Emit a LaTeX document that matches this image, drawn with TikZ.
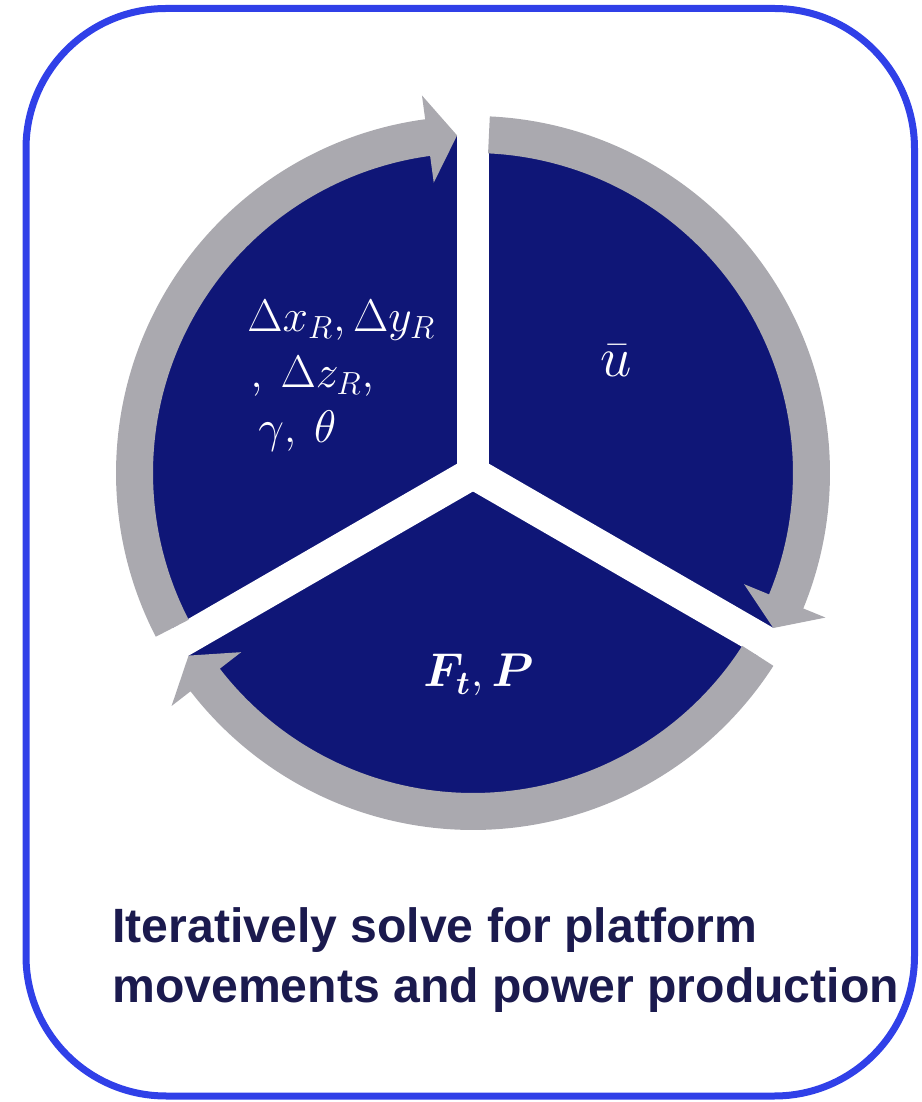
\RequirePackage{fix-cm}
\documentclass[tikz,border=0pt]{standalone}
\usepackage{bm}
\usepackage{fontspec}
\newfontfamily\titulofont{Liberation Sans}

\begin{document}
\begin{tikzpicture}

    % Definición de colores para igualar la imagen
    \definecolor{marco}{HTML}{3040E8}
    \definecolor{sector}{HTML}{0F1677}
    \definecolor{anillo}{HTML}{AAA9AF}
    \definecolor{textoazul}{HTML}{1B1A4E}

    \useasboundingbox (0,0) rectangle (18.44,22.04);

    % 1. Marco con esquinas redondeadas
    \draw[marco, line width=0.14cm, rounded corners=2.8cm] (0.52,0.12) rectangle (18.29,21.87);

    % 2. Círculo dividido en tres sectores
    \begin{scope}[shift={(9.46,12.58)}]
        \fill[sector] (0,0) circle (6.76);
        % Separaciones blancas entre sectores
        \foreach \g in {90,-30,210} {
            \draw[white, line width=0.64cm] (0,0) -- (\g:7.3);
        }

        % 3. Flechas grises del ciclo (sentido horario)
        \foreach \g in {90,-30,-150} {
            \fill[anillo] ({\g-2.7}:7.14) arc[start angle=\g-2.7, end angle=\g-112.3, radius=7.14]
                -- ({\g-112.3}:7.62) -- ({\g-117.3}:6.76) -- ({\g-112.3}:5.86)
                -- ({\g-112.3}:6.4) arc[start angle=\g-112.3, end angle=\g-2.7, radius=6.4] -- cycle;
        }
    \end{scope}

    % 4. Etiquetas de los sectores
    % Sector izquierdo
    \node[anchor=base west, inner sep=0, text=white] (despl1) at (4.94,15.40) {\fontsize{26}{31}\selectfont $\Delta x_R,\Delta y_R$};
    \node[anchor=base west, inner sep=0, text=white] (despl2) at (5.00,14.28) {\fontsize{26}{31}\selectfont $,\:\Delta z_R,$};
    \node[anchor=base west, inner sep=0, text=white] (despl3) at (5.16,13.18) {\fontsize{26}{31}\selectfont $\gamma,\:\theta$};

    % Sector derecho
    \node[anchor=base west, inner sep=0, text=white] (vel) at (12.00,14.50) {\fontsize{32}{38}\selectfont $\bar{u}$};

    % Sector inferior
    \node[anchor=base west, inner sep=0, text=white] (fuerza) at (8.46,8.30) {\fontsize{27}{32}\selectfont $\bm{F}_{\bm{t}},\bm{P}$};

    % 5. Texto inferior
    \node[anchor=base west, inner sep=0, text=textoazul, font=\titulofont\bfseries\fontsize{27.4}{33}\selectfont] (titulo1) at (2.24,3.18) {Iteratively solve for platform};
    \node[anchor=base west, inner sep=0, text=textoazul, font=\titulofont\bfseries\fontsize{27.4}{33}\selectfont] (titulo2) at (2.24,1.98) {movements and power production};

\end{tikzpicture}
\end{document}
